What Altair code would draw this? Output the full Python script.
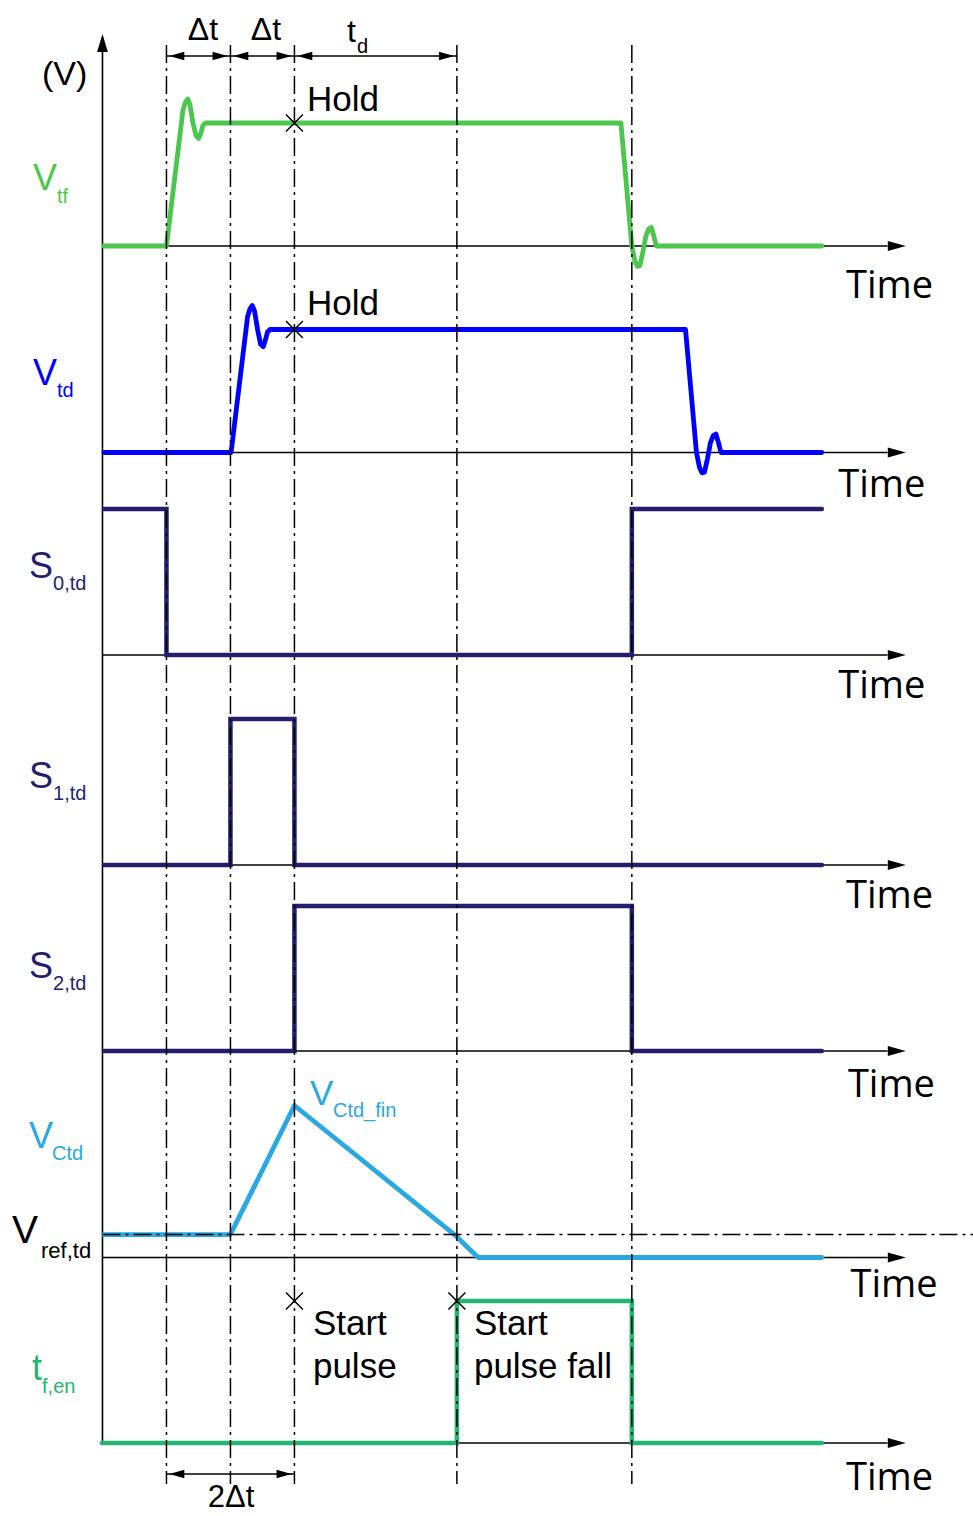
import altair as alt
import pandas as pd

# ---------------- signal data: time in units of Δt, level 0 = low, 1 = high ----------------
VTF_T = [0.023, 1.0, 1.258, 1.297, 1.331, 1.367, 1.414, 1.461, 1.503, 1.539, 1.570, 1.609,
         8.102, 8.273, 8.320, 8.359, 8.398, 8.445, 8.492, 8.539, 8.578, 8.617, 8.656, 11.242]
VTF_V = [0.0, 0.0, 1.106, 1.17, 1.195, 1.15, 1.0, 0.90, 0.875, 0.92, 0.98, 1.0,
         1.0, 0.0, -0.12, -0.165, -0.16, -0.05, 0.08, 0.14, 0.15, 0.08, 0.0, 0.0]

VTD_T = [0.023, 2.01, 2.268, 2.307, 2.341, 2.377, 2.424, 2.471, 2.513, 2.549, 2.580, 2.619,
         9.112, 9.283, 9.330, 9.369, 9.408, 9.455, 9.502, 9.549, 9.588, 9.627, 9.666, 11.242]
VTD_V = [0.0, 0.0, 1.106, 1.17, 1.195, 1.15, 1.0, 0.88, 0.86, 0.92, 0.98, 1.0,
         1.0, 0.0, -0.12, -0.165, -0.16, -0.05, 0.08, 0.14, 0.15, 0.08, 0.0, 0.0]

S0_T = [0.023, 1.0, 1.0, 8.273, 8.273, 11.242]
S0_V = [1, 1, 0, 0, 1, 1]
S1_T = [0.023, 2.0, 2.0, 3.0, 3.0, 11.242]
S1_V = [0, 0, 1, 1, 0, 0]
S2_T = [0.023, 3.0, 3.0, 8.273, 8.273, 11.242]
S2_V = [0, 0, 1, 1, 0, 0]

VREF_LEVEL = 0.151
VCTD_T = [0.023, 2.0, 3.0, 5.50, 5.87, 11.242]
VCTD_V = [0.151, 0.151, 1.0, 0.151, 0.0, 0.0]

TFEN_T = [-0.01, 5.539, 5.539, 8.273, 8.273, 11.242]
TFEN_V = [0, 0, 1, 1, 0, 0]

# event instants (dash-dot verticals): t0+Δt, t0+2Δt, t0+3Δt, +t_d, fall
T_MARKS = [1.0, 2.0, 3.0, 5.539, 8.273]

# ---------------- layout (rows: baseline from top, amplitude) ----------------
W, H = 973, 1516
X_DOMAIN = [-1.6016, 13.605]
ROWS = {
    "Vtf": (246, 123),
    "Vtd": (452.5, 123),
    "S0": (655, 146),
    "S1": (865, 146),
    "S2": (1051, 145),
    "VCtd": (1257.5, 152),
    "tfen": (1443, 142),
}
GREEN = "#4CC64C"
BLUE = "#0000FF"
NAVY = "#231F6E"
LTBLUE = "#29A9E0"
TEAL = "#23B574"
BLACK = "#000000"

SIGNALS = [
    ("Vtf", VTF_T, VTF_V, GREEN, "round"),
    ("Vtd", VTD_T, VTD_V, BLUE, "round"),
    ("S0", S0_T, S0_V, NAVY, "miter"),
    ("S1", S1_T, S1_V, NAVY, "miter"),
    ("S2", S2_T, S2_V, NAVY, "miter"),
    ("VCtd", VCTD_T, VCTD_V, LTBLUE, "round"),
    ("tfen", TFEN_T, TFEN_V, TEAL, "miter"),
]


def ypos(row, level):
    base, amp = ROWS[row]
    return base - level * amp


recs_round, recs_miter = [], []
for name, ts, vs, col, join in SIGNALS:
    for i, (t, v) in enumerate(zip(ts, vs)):
        r = {"sig": name, "i": i, "t": t, "y": ypos(name, v), "color": col}
        (recs_round if join == "round" else recs_miter).append(r)
sig_round = pd.DataFrame(recs_round)
sig_miter = pd.DataFrame(recs_miter)

X = alt.X("t:Q", scale=alt.Scale(domain=X_DOMAIN, nice=False, zero=False), axis=None)
Y = alt.Y("y:Q", scale=alt.Scale(domain=[0, H], reverse=True, nice=False, zero=False), axis=None)

AX_END = 12.27
AX_TIP = 12.555
baselines = pd.DataFrame([{"t": 0.0, "t2": AX_END, "y": ROWS[r][0]} for r in ROWS])
base_heads = pd.DataFrame([{"t": AX_TIP, "y": ROWS[r][0]} for r in ROWS])

axes = alt.Chart(baselines).mark_rule(color=BLACK, strokeWidth=1.6).encode(x=X, x2="t2:Q", y=Y)
heads_r = alt.Chart(base_heads).mark_point(
    shape="M0,0L-2,-0.56L-2,0.56Z", filled=True, size=324, color=BLACK, opacity=1
).encode(x=X, y=Y)

yaxis = alt.Chart(pd.DataFrame([{"t": 0.0, "y": 50, "y2": ROWS["tfen"][0]}])).mark_rule(
    color=BLACK, strokeWidth=1.6).encode(x=X, y=Y, y2="y2:Q")
yhead = alt.Chart(pd.DataFrame([{"t": 0.0, "y": 34}])).mark_point(
    shape="M0,0L-0.6,2L0.6,2Z", filled=True, size=324, color=BLACK, opacity=1
).encode(x=X, y=Y)

lines_round = alt.Chart(sig_round).mark_line(
    strokeWidth=4.8, strokeCap="round", strokeJoin="round"
).encode(x=X, y=Y, color=alt.Color("color:N", scale=None), detail="sig:N", order="i:Q")
lines_miter = alt.Chart(sig_miter).mark_line(
    strokeWidth=4.5, strokeCap="round", strokeJoin="miter"
).encode(x=X, y=Y, color=alt.Color("color:N", scale=None), detail="sig:N", order="i:Q")

DASH = [18, 5, 3, 5]
vmarks = alt.Chart(pd.DataFrame([{"t": t, "y": 45, "y2": 1484} for t in T_MARKS])).mark_rule(
    color=BLACK, strokeWidth=1.5, strokeDash=DASH).encode(x=X, y=Y, y2="y2:Q")
vref = alt.Chart(pd.DataFrame([{"t": 0.0, "t2": X_DOMAIN[1], "y": ypos("VCtd", VREF_LEVEL)}])).mark_rule(
    color=BLACK, strokeWidth=1.5, strokeDash=DASH).encode(x=X, x2="t2:Q", y=Y)

# dimension arrows
DIM_TOP, DIM_BOT = 56, 1474
spans = [(1.0, 2.0, DIM_TOP), (2.0, 3.0, DIM_TOP), (3.0, 5.539, DIM_TOP), (1.0, 3.0, DIM_BOT)]
INSET = 0.045
dim_df = pd.DataFrame([{"t": a, "t2": b, "y": y} for a, b, y in spans])
dims = alt.Chart(dim_df).mark_rule(color=BLACK, strokeWidth=1.5).encode(x=X, x2="t2:Q", y=Y)
dim_l = alt.Chart(pd.DataFrame([{"t": a + INSET, "y": y} for a, b, y in spans])).mark_point(
    shape="M0,0L2,-0.56L2,0.56Z", filled=True, size=225, color=BLACK, opacity=1).encode(x=X, y=Y)
dim_r = alt.Chart(pd.DataFrame([{"t": b - INSET, "y": y} for a, b, y in spans])).mark_point(
    shape="M0,0L-2,-0.56L-2,0.56Z", filled=True, size=225, color=BLACK, opacity=1).encode(x=X, y=Y)

# x markers
xm = pd.DataFrame([
    {"t": 3.0, "y": ypos("Vtf", 1)},
    {"t": 3.0, "y": ypos("Vtd", 1)},
    {"t": 3.0, "y": ypos("tfen", 1)},
    {"t": 5.539, "y": ypos("tfen", 1)},
])
xmarks = alt.Chart(xm).mark_point(
    shape="M-1,-1L1,1M-1,1L1,-1", filled=False, size=289, strokeWidth=1.5, color=BLACK, opacity=1
).encode(x=X, y=Y)

# text annotations
LEFT_TEXT = [
    ("(V)", -0.945, 85, 34, BLACK),
    ("V", -1.086, 190, 36, GREEN), ("tf", -0.711, 203, 20, GREEN),
    ("V", -1.086, 385, 36, BLUE), ("td", -0.711, 397, 20, BLUE),
    ("S", -1.148, 578, 36, NAVY), ("0,td", -0.773, 590, 20, NAVY),
    ("S", -1.148, 788, 36, NAVY), ("1,td", -0.773, 800, 20, NAVY),
    ("S", -1.148, 978, 36, NAVY), ("2,td", -0.773, 990, 20, NAVY),
    ("V", -1.148, 1148, 36, LTBLUE), ("Ctd", -0.789, 1160, 20, LTBLUE),
    ("V", -1.414, 1243, 39, BLACK), ("ref,td", -0.961, 1258, 22, BLACK),
    ("t", -1.102, 1380, 36, TEAL), ("f,en", -0.945, 1393, 20, TEAL),
    ("Hold", 3.195, 111, 35, BLACK), ("Hold", 3.195, 315, 35, BLACK),
    ("V", 3.242, 1105, 35, LTBLUE), ("Ctd_fin", 3.602, 1117, 20, LTBLUE),
    ("Start", 3.289, 1335, 35, BLACK), ("pulse", 3.289, 1378, 35, BLACK),
    ("Start", 5.805, 1335, 35, BLACK), ("pulse fall", 5.805, 1378, 35, BLACK),
    ("t", 3.82, 42, 32, BLACK), ("d", 3.977, 53, 20, BLACK),
]
CENTER_TEXT = [
    ("Δt", 1.57, 40, 32, BLACK), ("Δt", 2.555, 40, 32, BLACK), ("2Δt", 2.008, 1507, 31, BLACK),
]
TIME_TEXT = [
    ("Time", 11.62, 298), ("Time", 11.50, 497), ("Time", 11.50, 698), ("Time", 11.62, 908),
    ("Time", 11.65, 1097), ("Time", 11.69, 1297), ("Time", 11.62, 1490),
]


def text_df(items):
    return pd.DataFrame([{"label": a, "t": b, "y": c, "fs": d, "color": e} for a, b, c, d, e in items])


left_txt = alt.Chart(text_df(LEFT_TEXT)).mark_text(
    align="left", baseline="alphabetic", font="Liberation Sans"
).encode(x=X, y=Y, text="label:N", size=alt.Size("fs:Q", scale=None),
         color=alt.Color("color:N", scale=None))
center_txt = alt.Chart(text_df(CENTER_TEXT)).mark_text(
    align="center", baseline="alphabetic", font="Liberation Sans"
).encode(x=X, y=Y, text="label:N", size=alt.Size("fs:Q", scale=None),
         color=alt.Color("color:N", scale=None))
time_txt = alt.Chart(pd.DataFrame([{"label": a, "t": b, "y": c} for a, b, c in TIME_TEXT])).mark_text(
    align="left", baseline="alphabetic", font="Open Sans", fontSize=38, color=BLACK
).encode(x=X, y=Y, text="label:N")

chart = alt.layer(
    axes, heads_r, yaxis, yhead,
    lines_miter, lines_round,
    vmarks, vref, dims, dim_l, dim_r, xmarks,
    left_txt, center_txt, time_txt,
).properties(
    width=W, height=H, padding=0, background="white",
    autosize=alt.AutoSizeParams(type="none"),
).configure_view(stroke=None)

chart.save("out.html", embed_options={"renderer": "svg", "actions": False})
